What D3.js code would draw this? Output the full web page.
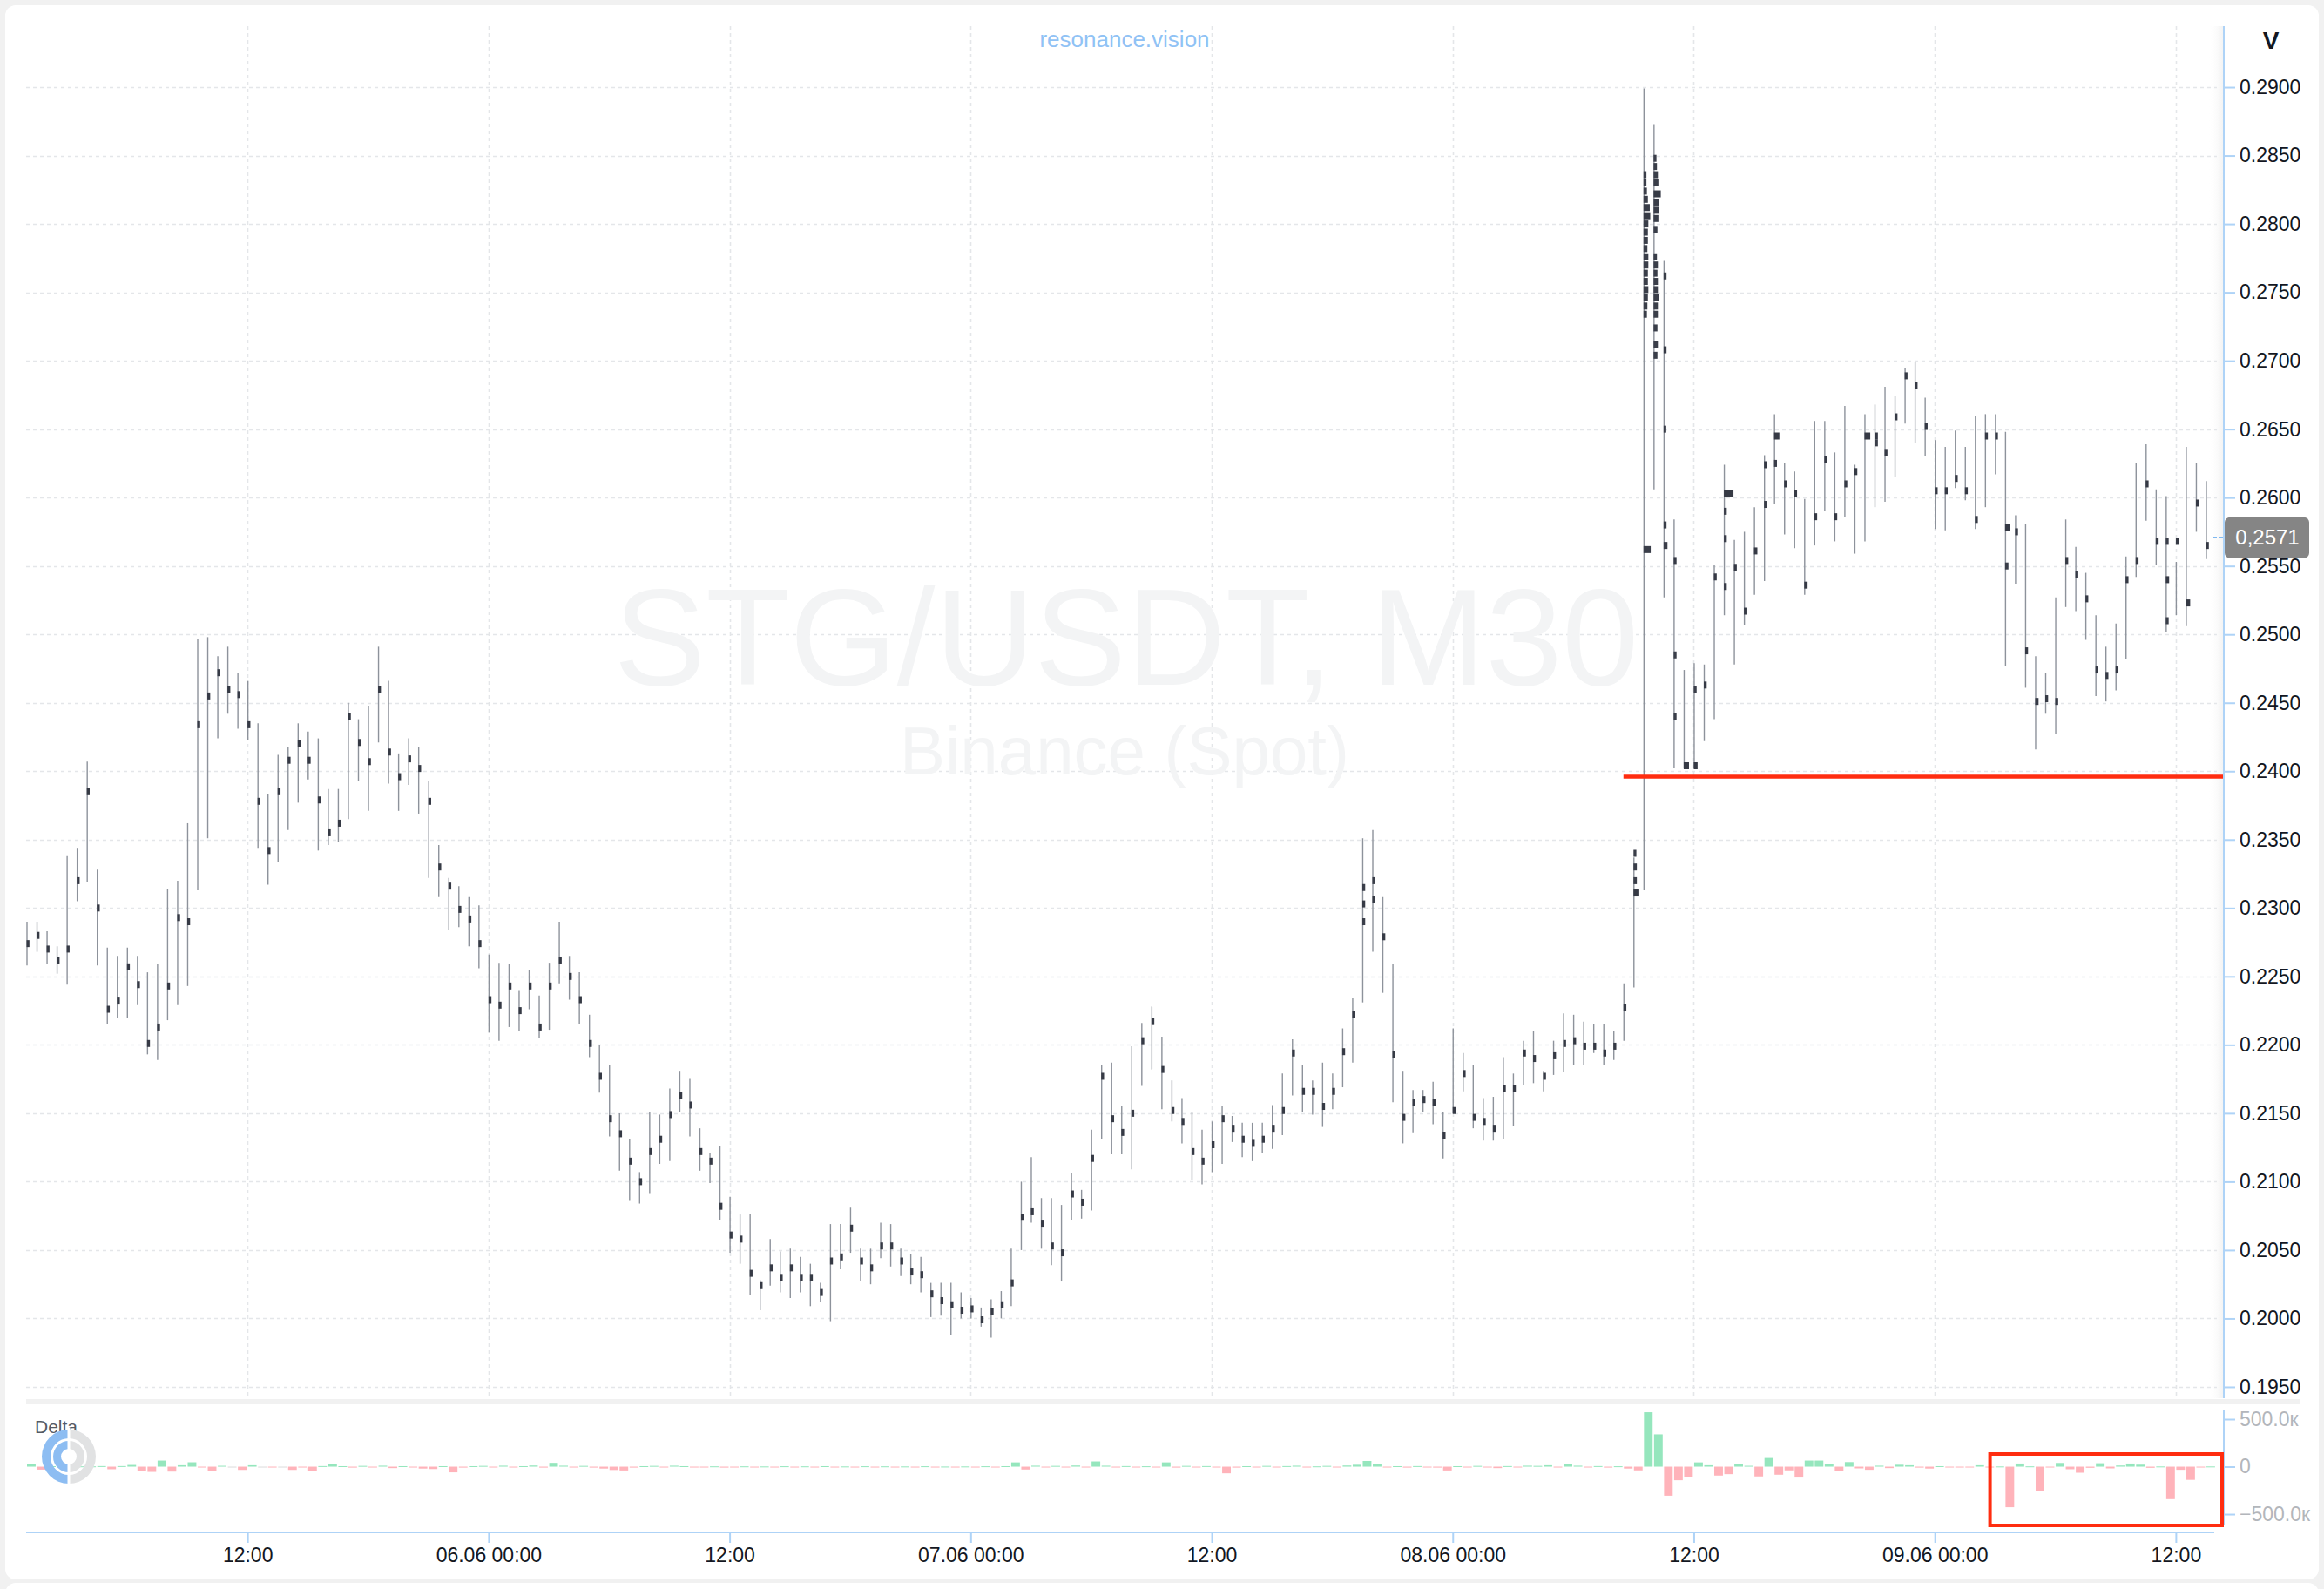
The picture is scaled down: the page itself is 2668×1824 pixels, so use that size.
<!DOCTYPE html>
<html><head><meta charset="utf-8">
<script src="https://cdn.jsdelivr.net/npm/d3@7"></script>
<style>html,body{margin:0;padding:0;background:#f1f1f1;}svg{display:block;font-family:"Liberation Sans",Arial,Helvetica,sans-serif;}</style>
</head><body><svg id="c" width="2668" height="1824"></svg>
<script>
// ---------------- DATA ----------------
const startTime = Date.UTC(2024, 5, 5, 1, 0);   // first 30-min candle: 05.06 01:00
const candleMinutes = 30;
const highs = [0.2290,0.2290,0.2283,0.2272,0.2338,0.2344,0.2407,0.2328,0.2271,0.2265,0.2271,0.2265,0.2253,0.2259,0.2314,0.2320,0.2362,0.2497,0.2498,0.2484,
0.2491,0.2472,0.2466,0.2435,0.2383,0.2412,0.2418,0.2435,0.2429,0.2424,0.2387,0.2387,0.2450,0.2438,0.2448,0.2491,0.2466,0.2413,0.2424,0.2418,
0.2393,0.2346,0.2322,0.2316,0.2308,0.2302,0.2266,0.2260,0.2259,0.2240,0.2255,0.2236,0.2260,0.2290,0.2265,0.2253,0.2222,0.2200,0.2185,0.2150,
0.2131,0.2107,0.2151,0.2149,0.2168,0.2181,0.2175,0.2139,0.2121,0.2126,0.2089,0.2076,0.2076,0.2028,0.2058,0.2049,0.2051,0.2045,0.2040,0.2026,
0.2069,0.2069,0.2081,0.2051,0.2051,0.2070,0.2069,0.2051,0.2047,0.2045,0.2026,0.2026,0.2026,0.2019,0.2015,0.2008,0.2014,0.2020,0.2051,0.2100,
0.2118,0.2088,0.2088,0.2083,0.2106,0.2094,0.2138,0.2185,0.2187,0.2155,0.2199,0.2216,0.2228,0.2206,0.2174,0.2161,0.2151,0.2138,0.2144,0.2155,
0.2148,0.2143,0.2143,0.2143,0.2156,0.2179,0.2204,0.2185,0.2174,0.2187,0.2179,0.2212,0.2234,0.2351,0.2357,0.2308,0.2259,0.2181,0.2167,0.2167,
0.2173,0.2151,0.2212,0.2194,0.2185,0.2161,0.2162,0.2191,0.2179,0.2203,0.2210,0.2181,0.2203,0.2223,0.2222,0.2217,0.2215,0.2215,0.2210,0.2245,
0.2337,0.2899,0.2873,0.2773,0.2584,0.2474,0.2479,0.2478,0.2551,0.2624,0.2569,0.2575,0.2593,0.2631,0.2661,0.2625,0.2619,0.2599,0.2656,0.2656,
0.2633,0.2667,0.2624,0.2661,0.2668,0.2681,0.2674,0.2695,0.2699,0.2673,0.2642,0.2637,0.2649,0.2637,0.2660,0.2661,0.2661,0.2648,0.2587,0.2581,
0.2484,0.2472,0.2527,0.2584,0.2564,0.2545,0.2514,0.2491,0.2508,0.2557,0.2625,0.2639,0.2606,0.2601,0.2553,0.2637,0.2625,0.2612];
const lows = [0.2258,0.2268,0.2259,0.2252,0.2244,0.2305,0.2319,0.2258,0.2215,0.2220,0.2220,0.2229,0.2193,0.2189,0.2218,0.2229,0.2243,0.2313,0.2351,0.2424,
0.2442,0.2431,0.2423,0.2344,0.2317,0.2334,0.2357,0.2377,0.2394,0.2342,0.2346,0.2348,0.2365,0.2393,0.2371,0.2421,0.2391,0.2371,0.2390,0.2369,
0.2322,0.2308,0.2284,0.2286,0.2272,0.2256,0.2209,0.2203,0.2213,0.2210,0.2226,0.2205,0.2211,0.2245,0.2233,0.2215,0.2191,0.2165,0.2133,0.2108,
0.2086,0.2084,0.2091,0.2113,0.2115,0.2151,0.2133,0.2108,0.2099,0.2072,0.2048,0.2040,0.2017,0.2006,0.2024,0.2019,0.2015,0.2019,0.2009,0.2012,
0.1998,0.2036,0.2048,0.2027,0.2025,0.2044,0.2038,0.2031,0.2025,0.2019,0.2001,0.2002,0.1988,0.2000,0.2000,0.1994,0.1986,0.2000,0.2009,0.2050,
0.2070,0.2051,0.2039,0.2027,0.2072,0.2073,0.2079,0.2131,0.2120,0.2120,0.2109,0.2170,0.2182,0.2153,0.2144,0.2128,0.2101,0.2098,0.2107,0.2113,
0.2129,0.2118,0.2115,0.2121,0.2124,0.2134,0.2163,0.2151,0.2149,0.2140,0.2153,0.2169,0.2187,0.2231,0.2268,0.2238,0.2158,0.2128,0.2136,0.2151,
0.2142,0.2117,0.2150,0.2166,0.2139,0.2130,0.2130,0.2131,0.2141,0.2171,0.2172,0.2166,0.2178,0.2180,0.2185,0.2185,0.2194,0.2185,0.2189,0.2203,
0.2242,0.2313,0.2606,0.2527,0.2402,0.2402,0.2402,0.2422,0.2438,0.2514,0.2478,0.2507,0.2529,0.2539,0.2595,0.2573,0.2563,0.2529,0.2565,0.2590,
0.2568,0.2586,0.2559,0.2568,0.2593,0.2597,0.2615,0.2654,0.2640,0.2630,0.2577,0.2576,0.2607,0.2598,0.2577,0.2593,0.2617,0.2477,0.2537,0.2461,
0.2416,0.2442,0.2427,0.2520,0.2517,0.2496,0.2455,0.2451,0.2459,0.2482,0.2542,0.2583,0.2551,0.2502,0.2514,0.2506,0.2575,0.2555];
// price level with the largest traded volume in each candle
const pocs = [0.2274,0.2280,0.2270,0.2262,0.2270,0.2320,0.2385,0.2300,0.2226,0.2232,0.2257,0.2244,0.2201,0.2213,0.2243,0.2293,0.2290,0.2434,0.2455,0.2472,
0.2460,0.2456,0.2434,0.2378,0.2342,0.2385,0.2408,0.2420,0.2408,0.2379,0.2355,0.2362,0.2440,0.2421,0.2407,0.2460,0.2414,0.2396,0.2409,0.2402,
0.2378,0.2330,0.2316,0.2299,0.2292,0.2274,0.2233,0.2229,0.2243,0.2225,0.2243,0.2213,0.2243,0.2262,0.2250,0.2233,0.2201,0.2177,0.2146,0.2135,
0.2115,0.2100,0.2122,0.2131,0.2149,0.2163,0.2156,0.2122,0.2115,0.2082,0.2061,0.2058,0.2033,0.2024,0.2037,0.2030,0.2037,0.2030,0.2030,0.2019,
0.2042,0.2045,0.2066,0.2042,0.2037,0.2053,0.2053,0.2042,0.2034,0.2032,0.2018,0.2013,0.2010,0.2006,0.2007,0.1999,0.2005,0.2010,0.2026,0.2074,
0.2078,0.2069,0.2053,0.2048,0.2091,0.2085,0.2117,0.2177,0.2146,0.2136,0.2150,0.2203,0.2217,0.2182,0.2152,0.2144,0.2122,0.2115,0.2127,0.2146,
0.2139,0.2131,0.2128,0.2131,0.2139,0.2152,0.2194,0.2166,0.2166,0.2155,0.2166,0.2195,0.2222,0.2303,0.2306,0.2279,0.2193,0.2147,0.2158,0.2160,
0.2158,0.2134,0.2152,0.2179,0.2147,0.2144,0.2139,0.2168,0.2168,0.2194,0.2190,0.2177,0.2192,0.2201,0.2203,0.2199,0.2199,0.2194,0.2199,0.2227,
0.2311,0.2806,0.2822,0.2708,0.2554,0.2404,0.2404,0.2463,0.2542,0.2603,0.2549,0.2517,0.2561,0.2624,0.2645,0.2610,0.2603,0.2536,0.2586,0.2628,
0.2586,0.2610,0.2619,0.2645,0.2645,0.2633,0.2659,0.2689,0.2682,0.2652,0.2605,0.2605,0.2614,0.2605,0.2584,0.2645,0.2645,0.2578,0.2575,0.2488,
0.2451,0.2453,0.2451,0.2554,0.2544,0.2526,0.2474,0.2470,0.2474,0.2540,0.2554,0.2610,0.2568,0.2540,0.2568,0.2523,0.2596,0.2565];
// additional heavy volume clusters: [candle index, price, relative volume]
const clusters = [[133,0.2290,0.3],[133,0.2315,0.3],[134,0.2320,0.3],
[160,0.2320,0.35],[160,0.2330,0.35],[160,0.2340,0.3],
[161,0.2836,0.3],[161,0.2830,0.3],[161,0.2824,0.35],[161,0.2818,0.45],[161,0.2812,0.65],[161,0.2800,0.5],[161,0.2794,0.45],[161,0.2788,0.45],[161,0.2782,0.4],
[161,0.2776,0.5],[161,0.2770,0.5],[161,0.2764,0.45],[161,0.2758,0.45],[161,0.2752,0.5],[161,0.2746,0.45],[161,0.2740,0.4],[161,0.2734,0.35],[161,0.2562,0.75],
[162,0.2848,0.3],[162,0.2842,0.35],[162,0.2836,0.45],[162,0.2830,0.5],[162,0.2816,0.55],[162,0.2810,0.55],[162,0.2804,0.5],[162,0.2796,0.4],
[162,0.2776,0.35],[162,0.2770,0.45],[162,0.2764,0.4],[162,0.2758,0.45],[162,0.2752,0.45],[162,0.2746,0.55],[162,0.2740,0.45],[162,0.2734,0.45],[162,0.2724,0.4],[162,0.2712,0.45],[162,0.2704,0.4],
[163,0.2762,0.3],[163,0.2650,0.25],[163,0.2580,0.3],[163,0.2565,0.4],[164,0.2485,0.3],[164,0.2440,0.3],[166,0.2460,0.3],
[169,0.2590,0.3],[169,0.2570,0.3],[169,0.2535,0.3],[173,0.2595,0.3],[174,0.2625,0.3],[184,0.2640,0.35],[197,0.2550,0.35],[213,0.2568,0.3],[213,0.2510,0.3]];
// relative volume of the main cluster (default 0.3)
const pocVolume = {160:0.6,161:0.7,162:0.75,165:0.55,166:0.4,169:1.0,171:0.35,172:0.35,174:0.55,177:0.35,183:0.6,184:0.35,197:0.55,200:0.35,213:0.35,215:0.45};
// delta per candle, thousands
const deltas = [31,-31,5,15,21,3,3,6,-27,6,18,-46,-55,64,-52,15,46,-6,-49,9,
0,-34,15,0,-3,0,-34,-3,-49,6,24,5,-10,8,-5,10,-15,5,-8,-20,
-25,5,-60,-10,5,8,-5,10,-8,5,12,-10,40,10,-5,8,-10,-20,-35,-40,
-10,5,8,-5,10,5,-8,-5,3,-10,-5,3,-5,2,-3,4,-6,3,-2,5,
-4,2,-3,4,-2,3,-5,2,-3,4,-2,1,-3,2,-2,4,-3,5,45,-30,
10,-5,8,-6,12,-4,55,10,-8,6,-5,4,-6,45,-10,8,-5,6,-8,-70,
-10,5,-6,8,-4,6,10,-5,3,8,-6,12,20,60,25,-8,5,-10,6,-8,
-10,-40,5,-6,8,-5,-15,6,-4,10,8,15,-5,30,10,-8,6,-10,4,-20,
-39,573,340,-306,-143,-109,45,15,-94,-79,27,9,-103,91,-85,-39,-115,64,64,27,
-42,48,-18,-33,10,-15,20,15,-10,-20,5,-8,-5,-8,15,-8,2,-427,33,3,
-260,-5,39,-27,-64,-12,36,-18,12,33,21,-12,2,-342,-33,-139,-9,2];
const priceTicks = d3.range(0.1950, 0.29001, 0.005);
const deltaTicks = [-500, 0, 500];
const timeTicks = ["2024-06-05T12:00Z","2024-06-06T00:00Z","2024-06-06T12:00Z","2024-06-07T00:00Z","2024-06-07T12:00Z",
"2024-06-08T00:00Z","2024-06-08T12:00Z","2024-06-09T00:00Z","2024-06-09T12:00Z"];
const levelPrice = 0.2396;                 // marked horizontal level
const levelStart = "2024-06-08T08:30Z";
const lastPrice = 0.2571;
const lastPriceLabel = "0,2571";
const symbolText = "STG/USDT, M30";
const exchangeText = "Binance (Spot)";
const highlightFrom = "2024-06-09T02:45Z";  // red box on delta pane

// ---------------- CHART ----------------
const W = 2668, H = 1824;
const svg = d3.select("#c");
const plotL = 30, plotR = 2553, priceTop = 30, priceBot = 1605, deltaTop = 1618, deltaBot = 1758;
const axisBlue = "#aed3f7";

svg.append("rect").attr("width", W).attr("height", H).attr("fill", "#f1f1f1");
svg.append("rect").attr("x", 6).attr("y", 6).attr("width", 2656).attr("height", 1807).attr("rx", 12).attr("fill", "#fff");
svg.append("rect").attr("x", 6).attr("y", 1817).attr("width", 2656).attr("height", 40).attr("rx", 12).attr("fill", "#fff");

const times = highs.map((d, i) => new Date(startTime + i * candleMinutes * 60000));
const x = d3.scaleUtc().domain([times[0], times[214]]).range([30.5, 2497.9]);
const y = d3.scaleLinear().domain([0.19417, 0.29446]).range([priceBot, priceTop]);
const yd = d3.scaleLinear().domain([-683, 601]).range([deltaBot, deltaTop]);
const step = x(times[1]) - x(times[0]);

// defs
const defs = svg.append("defs");
defs.append("clipPath").attr("id", "clipP").append("rect").attr("x", plotL - 2).attr("y", priceTop).attr("width", plotR - plotL + 2).attr("height", priceBot - priceTop);
defs.append("clipPath").attr("id", "clipD").append("rect").attr("x", plotL - 2).attr("y", deltaTop).attr("width", plotR - plotL + 2).attr("height", deltaBot - deltaTop);
const grad = defs.append("linearGradient").attr("id", "shade").attr("x1", 0).attr("x2", 1);
grad.append("stop").attr("offset", 0).attr("stop-color", "#fff").attr("stop-opacity", 0);
grad.append("stop").attr("offset", 1).attr("stop-color", "#f2f2f2").attr("stop-opacity", 1);

// pane separator
svg.append("rect").attr("x", plotL).attr("y", 1606).attr("width", 2610).attr("height", 6).attr("fill", "#f1f1f1");
svg.append("rect").attr("x", plotR - 18).attr("y", priceTop).attr("width", 18).attr("height", priceBot - priceTop).attr("fill", "url(#shade)");

// grid
const grid = svg.append("g");
grid.selectAll("line.h").data(priceTicks).join("line")
  .attr("x1", plotL).attr("x2", plotR - 8).attr("y1", d => Math.round(y(d)) + 0.5).attr("y2", d => Math.round(y(d)) + 0.5)
  .attr("stroke", "#e4e6e9").attr("stroke-width", 1.6).attr("stroke-dasharray", "4,4");
grid.selectAll("line.v").data(timeTicks).join("line")
  .attr("x1", d => Math.round(x(new Date(d))) + 0.5).attr("x2", d => Math.round(x(new Date(d))) + 0.5)
  .attr("y1", priceTop).attr("y2", priceBot)
  .attr("stroke", "#e4e6e9").attr("stroke-width", 1.6).attr("stroke-dasharray", "4,4");

// watermark
svg.append("text").attr("x", 1293).attr("y", 786).attr("text-anchor", "middle").attr("font-size", 158)
  .attr("fill", "#f3f4f5").text(symbolText);
svg.append("text").attr("x", 1291).attr("y", 889).attr("text-anchor", "middle").attr("font-size", 78)
  .attr("fill", "#f3f4f5").text(exchangeText);
svg.append("text").attr("x", 1291).attr("y", 54).attr("text-anchor", "middle").attr("font-size", 26)
  .attr("fill", "#90c2f5").text("resonance.vision");

// candles
const cg = svg.append("g").attr("clip-path", "url(#clipP)");
const idx = d3.range(highs.length);
cg.selectAll("line.c").data(idx).join("line")
  .attr("x1", i => x(times[i]) + 0.5).attr("x2", i => x(times[i]) + 0.5)
  .attr("y1", i => y(highs[i])).attr("y2", i => y(lows[i]))
  .attr("stroke", "#8d929b").attr("stroke-width", 1.4);
const blockW = v => Math.max(3, v * 11);
cg.selectAll("rect.cl").data(clusters).join("rect")
  .attr("x", d => x(times[d[0]])).attr("y", d => y(d[1]) - 4)
  .attr("width", d => blockW(d[2])).attr("height", 8).attr("fill", "#3a3e49");
cg.selectAll("rect.poc").data(idx).join("rect")
  .attr("x", i => x(times[i])).attr("y", i => y(pocs[i]) - 4)
  .attr("width", i => blockW(pocVolume[i] || 0.3)).attr("height", 8).attr("fill", "#363a45");

// level line
svg.append("line").attr("x1", x(new Date(levelStart))).attr("x2", plotR)
  .attr("y1", y(levelPrice)).attr("y2", y(levelPrice))
  .attr("stroke", "#ff2d10").attr("stroke-width", 4.5);

// last price
svg.append("line").attr("x1", plotR - 12).attr("x2", plotR).attr("y1", y(lastPrice)).attr("y2", y(lastPrice))
  .attr("stroke", "#7fb8f0").attr("stroke-width", 1.5).attr("stroke-dasharray", "4,3");

// price axis
const yAxis = d3.axisRight(y).tickValues(priceTicks).tickFormat(d3.format(".4f")).tickSize(13).tickSizeOuter(0).tickPadding(5);
const ya = svg.append("g").attr("transform", `translate(${plotR},0)`).call(yAxis);
ya.select(".domain").remove();
ya.selectAll(".tick line").attr("stroke", axisBlue).attr("stroke-width", 2);
ya.selectAll(".tick text").attr("font-size", 23).attr("fill", "#131722").attr("font-family", "Liberation Sans, Arial, sans-serif");
svg.append("line").attr("x1", plotR).attr("x2", plotR).attr("y1", priceTop).attr("y2", priceBot).attr("stroke", axisBlue).attr("stroke-width", 2);
svg.append("text").attr("x", 2607).attr("y", 56).attr("text-anchor", "middle").attr("font-size", 28).attr("font-weight", "bold").attr("fill", "#131722").text("V");

const lp = svg.append("g").attr("transform", `translate(${plotR + 1},${y(lastPrice)})`);
lp.append("rect").attr("x", 0).attr("y", -23).attr("width", 97).attr("height", 47).attr("rx", 6).attr("fill", "#858585");
lp.append("text").attr("x", 49).attr("y", 8).attr("text-anchor", "middle").attr("font-size", 24).attr("fill", "#fff").text(lastPriceLabel);

// delta pane
const dg = svg.append("g").attr("clip-path", "url(#clipD)");
dg.selectAll("rect.d").data(idx).join("rect")
  .attr("x", i => x(times[i]) + 0.5).attr("width", step - 1.6)
  .attr("y", i => Math.min(yd(deltas[i]), yd(0)))
  .attr("height", i => Math.max(1, Math.abs(yd(deltas[i]) - yd(0))))
  .attr("fill", i => deltas[i] > 0 ? "#95e6bd" : (deltas[i] < 0 ? "#ffb3ba" : "#dcdcdc"));

const dAxis = d3.axisRight(yd).tickValues(deltaTicks).tickFormat(d => d === 0 ? "0" : (d3.format(".1f")(d) + "к")).tickSize(13).tickSizeOuter(0).tickPadding(5);
const da = svg.append("g").attr("transform", `translate(${plotR},0)`).call(dAxis);
da.select(".domain").remove();
da.selectAll(".tick line").attr("stroke", axisBlue).attr("stroke-width", 2);
da.selectAll(".tick text").attr("font-size", 23).attr("fill", "#b3b6bb").attr("font-family", "Liberation Sans, Arial, sans-serif");
svg.append("line").attr("x1", plotR).attr("x2", plotR).attr("y1", deltaTop).attr("y2", 1750).attr("stroke", axisBlue).attr("stroke-width", 2);

svg.append("text").attr("x", 40).attr("y", 1645).attr("font-size", 21).attr("fill", "#555a64").text("Delta");
// logo
const logo = svg.append("g").attr("transform", "translate(79,1672)");
const arc = d3.arc();
[[21, 31], [9, 18]].forEach(([r0, r1]) => {
  logo.append("path").attr("d", arc({innerRadius: r0, outerRadius: r1, startAngle: Math.PI, endAngle: 2 * Math.PI})).attr("fill", "#8dbdf2");
  logo.append("path").attr("d", arc({innerRadius: r0, outerRadius: r1, startAngle: 0, endAngle: Math.PI})).attr("fill", "#e1e2e3");
});
logo.append("rect").attr("x", -1.5).attr("y", -33).attr("width", 3).attr("height", 66).attr("fill", "#fff");

// highlight box
const hx = x(new Date(highlightFrom));
svg.append("rect").attr("x", hx).attr("y", 1669).attr("width", plotR - 2 - hx).attr("height", 82)
  .attr("fill", "none").attr("stroke", "#ff2d10").attr("stroke-width", 4);

// time axis
const xAxis = d3.axisBottom(x).tickValues(timeTicks.map(d => new Date(d)))
  .tickFormat(d => d.getUTCHours() === 0 ? d3.utcFormat("%d.%m %H:%M")(d) : d3.utcFormat("%H:%M")(d))
  .tickSize(12).tickSizeOuter(0).tickPadding(6);
const xa = svg.append("g").attr("transform", `translate(0,1759)`).call(xAxis);
xa.select(".domain").remove();
xa.selectAll(".tick line").attr("stroke", axisBlue).attr("stroke-width", 2);
xa.selectAll(".tick text").attr("font-size", 23).attr("fill", "#131722").attr("font-family", "Liberation Sans, Arial, sans-serif");
svg.append("line").attr("x1", plotL).attr("x2", 2542).attr("y1", 1759).attr("y2", 1759).attr("stroke", axisBlue).attr("stroke-width", 2);
</script></body></html>
